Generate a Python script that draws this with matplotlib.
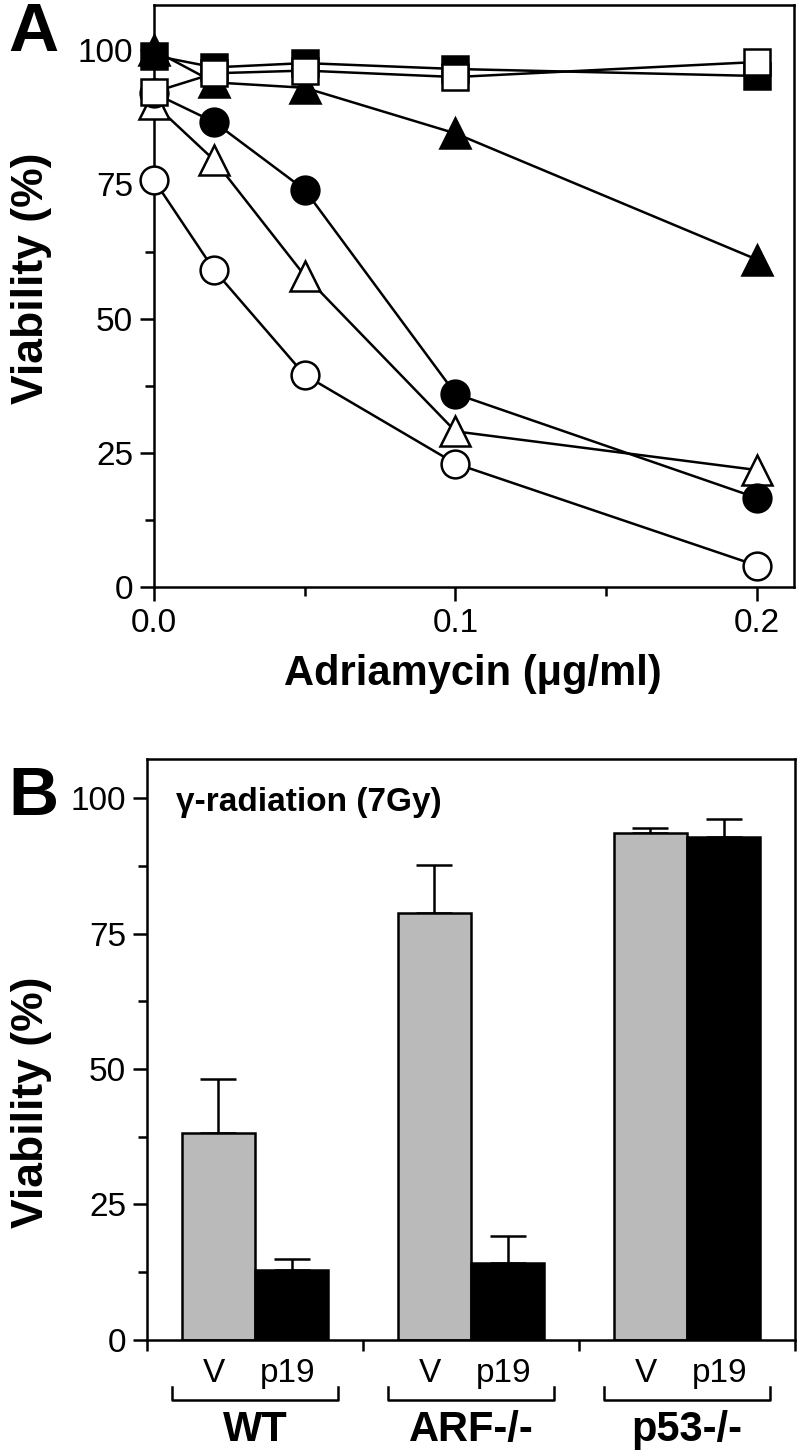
import numpy as np
import matplotlib
matplotlib.use('Agg')
import matplotlib.pyplot as plt
from matplotlib.ticker import MultipleLocator, FixedLocator, NullFormatter
import matplotlib.transforms as mtransforms

plt.rcParams['font.family'] = ['Liberation Sans', 'DejaVu Sans']

# Panel A: viability vs adriamycin dose
conc = [0.0, 0.02, 0.05, 0.1, 0.2]
open_circle = [75.8, 59, 39.5, 23, 4]
filled_circle = [92, 86.6, 74, 36, 16.6]
open_triangle = [90, 79.5, 58, 29, 21.8]
filled_triangle = [100, 94, 93, 84.5, 61]
filled_square = [99, 96.8, 97.6, 96.5, 95.2]
open_square = [92.2, 95.7, 96.2, 95, 97.8]

# Panel B: gamma radiation
groups = ['WT', 'ARF-/-', 'p53-/-']
vector = [38.2, 78.8, 93.5]
vector_err = [10.0, 8.8, 1.0]
p19 = [12.9, 14.2, 92.8]
p19_err = [2.0, 5.0, 3.3]

fig = plt.figure(figsize=(8, 14.56), dpi=100)
axA = fig.add_axes([0.1925, 0.5968, 0.80, 0.3997])
axB = fig.add_axes([0.18375, 0.0797, 0.81, 0.3990])

lw = 1.8
for ax in (axA, axB):
    for s in ax.spines.values():
        s.set_linewidth(lw)
    ax.tick_params(which='major', direction='out', length=10, width=lw, labelsize=24, pad=5)
    ax.tick_params(which='minor', direction='out', length=6.5, width=lw)
    ax.tick_params(top=False, right=False)

# ---- panel A ----
series = [
    (filled_triangle, '^', 'black', 21),
    (open_triangle, '^', 'white', 21),
    (filled_circle, 'o', 'black', 20),
    (open_circle, 'o', 'white', 20),
    (filled_square, 's', 'black', 19),
    (open_square, 's', 'white', 19),
]
for i, (vals, m, fc, ms) in enumerate(series):
    axA.plot(conc, vals, color='black', lw=1.8, marker=m, markersize=ms,
             markerfacecolor=fc, markeredgecolor='black', markeredgewidth=1.8,
             zorder=3 + i, clip_on=False)

axA.set_xlim(0, 0.2123)
axA.set_ylim(0, 108.4)
axA.xaxis.set_major_locator(FixedLocator([0.0, 0.1, 0.2]))
axA.set_xticklabels(['0.0', '0.1', '0.2'])
axA.xaxis.set_minor_locator(FixedLocator([0.05, 0.15]))
axA.yaxis.set_major_locator(MultipleLocator(25))
axA.yaxis.set_minor_locator(MultipleLocator(12.5))
axA.set_xlabel('Adriamycin (\u03bcg/ml)', fontsize=30, fontweight='bold')
axA.xaxis.set_label_coords(0.498, -0.115)
axA.set_ylabel('Viability (%)', fontsize=32, fontweight='bold')
axA.yaxis.set_label_coords(-0.16, 0.53)

# ---- panel B ----
x = np.arange(len(groups))
w = 0.338
axB.bar(x - w / 2, vector, w, color='#bababa', edgecolor='black', linewidth=1.8, zorder=2)
axB.bar(x + w / 2, p19, w, color='black', edgecolor='black', linewidth=1.8, zorder=2)
axB.errorbar(x - w / 2, vector, yerr=[np.zeros(3), vector_err], fmt='none',
             ecolor='black', elinewidth=1.8, capsize=13, capthick=1.8, zorder=1)
axB.errorbar(x + w / 2, p19, yerr=[np.zeros(3), p19_err], fmt='none',
             ecolor='black', elinewidth=1.8, capsize=13, capthick=1.8, zorder=1)

axB.set_xlim(-0.5, 2.5)
axB.set_ylim(0, 107.2)
axB.xaxis.set_major_locator(FixedLocator([-0.5, 0.5, 1.5, 2.5]))
axB.xaxis.set_major_formatter(NullFormatter())
axB.tick_params(axis='x', which='major', length=8)
axB.yaxis.set_major_locator(MultipleLocator(25))
axB.yaxis.set_minor_locator(MultipleLocator(12.5))
axB.set_ylabel('Viability (%)', fontsize=32, fontweight='bold')
axB.yaxis.set_label_coords(-0.147, 0.41)
axB.text(0.045, 0.925, '\u03b3-radiation (7Gy)', transform=axB.transAxes,
         fontsize=24, fontweight='bold', va='center', ha='left')

trans = mtransforms.blended_transform_factory(axB.transData, axB.transAxes)
for i, g in enumerate(groups):
    axB.text(i - 0.19, -0.057, 'V', transform=trans, fontsize=24, ha='center', va='center')
    axB.text(i + 0.15, -0.057, 'p19', transform=trans, fontsize=24, ha='center', va='center')
    axB.plot([i - 0.385, i - 0.385, i + 0.385, i + 0.385], [-0.081, -0.103, -0.103, -0.081],
             color='black', lw=1.8, transform=trans, clip_on=False)
    axB.text(i, -0.155, g, transform=trans, fontsize=30, fontweight='bold', ha='center', va='center')

fig.text(0.042, 1 - 33 / 1456, 'A', fontsize=50, fontweight='bold', ha='center', va='center')
fig.text(0.042, 1 - 797 / 1456, 'B', fontsize=50, fontweight='bold', ha='center', va='center')

fig.savefig('out.png', dpi=100)
